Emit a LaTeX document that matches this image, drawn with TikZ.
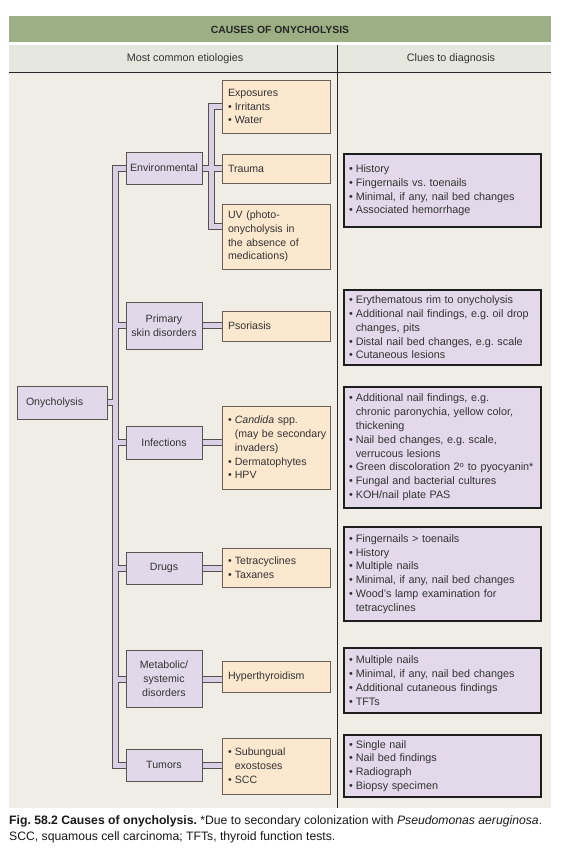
\documentclass[tikz,border=0pt]{standalone}
\usepackage{fontspec}
\setmainfont{Liberation Sans}
\definecolor{titlegreen}{HTML}{9DAF84}
\definecolor{headgray}{HTML}{E6E8DF}
\definecolor{bodybg}{HTML}{EFEDE6}
\definecolor{catfill}{HTML}{E1D9EA}
\definecolor{catedge}{HTML}{5A5550}
\definecolor{orfill}{HTML}{FCE8CE}
\definecolor{oredge}{HTML}{6A6058}
\definecolor{rfill}{HTML}{E3D9EA}
\definecolor{redge}{HTML}{1E1E1E}
\definecolor{pipefill}{HTML}{D9D0E4}
\definecolor{pipeedge}{HTML}{55504F}
\definecolor{txt}{HTML}{333333}
\pgfdeclarelayer{bglayer}
\pgfdeclarelayer{pipelayer}
\pgfsetlayers{bglayer,pipelayer,main}
\newcommand\bu{\makebox[6.8pt][l]{•}}
\newcommand\ind{\hspace*{6.8pt}}
\frenchspacing
\hyphenpenalty=10000
\exhyphenpenalty=10000
\tikzset{
  boxtext/.style={font=\fontsize{10.6}{13.8}\selectfont, text=txt},
  catbox/.style={boxtext, draw=catedge, fill=catfill, line width=0.9pt, minimum width=76pt, align=center, inner sep=1pt},
  orbox/.style={boxtext, draw=oredge, fill=orfill, line width=0.9pt, text width=96pt, inner xsep=6pt, inner ysep=1pt, align=left},
  rbox/.style={font=\fontsize{10.8}{13.8}\selectfont, text=txt, draw=redge, fill=rfill, line width=1.1pt, text width=187pt, inner xsep=5pt, inner ysep=1pt, align=left},
  pipeout/.style={line width=7pt, draw=pipeedge, line join=miter, line cap=butt},
  pipein/.style={line width=5pt, draw=pipefill, line join=miter, line cap=butt},
}
\begin{document}
\begin{tikzpicture}[x=1pt,y=-1pt]
\useasboundingbox (0,0) rectangle (563,851);
\begin{pgfonlayer}{bglayer}
\fill[white] (0,0) rectangle (563,851);
\fill[titlegreen] (9,16) rectangle (551,42);
\fill[headgray] (9,45) rectangle (551,72.5);
\fill[bodybg] (9,72.5) rectangle (551,808);
\draw[line width=1.2pt, black!85] (9,72.5) -- (551,72.5);
\draw[line width=0.9pt, black!85] (337.5,45) -- (337.5,808);
\end{pgfonlayer}

\node[font=\bfseries\fontsize{10.4}{12}\selectfont, text=black!85] (title) at (280,29.5) {CAUSES OF ONYCHOLYSIS};
\node[font=\fontsize{10.8}{12}\selectfont, text=txt] (h1) at (185,59) {Most common etiologies};
\node[font=\fontsize{10.8}{12}\selectfont, text=txt] (h2) at (451,59) {Clues to diagnosis};

% root
\node[catbox, minimum width=90pt, minimum height=33pt, text width=72pt, align=left, inner xsep=9pt] (ony) at (62,402.5) {Onycholysis};

% categories
\node[catbox, minimum height=32pt] (env) at (164,168) {Environmental};
\node[catbox, minimum height=47pt] (prim) at (164,325.5) {Primary\\skin disorders};
\node[catbox, minimum height=33pt] (inf) at (164,442.5) {Infections};
\node[catbox, minimum height=32pt] (drugs) at (164,568) {Drugs};
\node[catbox, minimum height=57pt] (meta) at (164,679) {Metabolic/\\systemic\\disorders};
\node[catbox, minimum height=32pt] (tum) at (164,765) {Tumors};

% causes
\node[orbox, minimum height=53pt] (expo) at (276,106.5) {Exposures\\\bu Irritants\\\bu Water};
\node[orbox, minimum height=29pt] (trauma) at (276,168.5) {Trauma};
\node[orbox, minimum height=65pt] (uv) at (276,236.5) {UV (photo-\\onycholysis in\\the absence of\\medications)};
\node[orbox, minimum height=30pt] (psor) at (276,326) {Psoriasis};
\node[orbox, minimum height=83pt] (cand) at (276,447.5) {\bu\textit{Candida} spp.\\\mbox{\ind(may be secondary}\\\ind invaders)\\\bu Dermatophytes\\\bu HPV};
\node[orbox, minimum height=39pt] (tetra) at (276,567.5) {\bu Tetracyclines\\\bu Taxanes};
\node[orbox, minimum height=31pt] (hyper) at (276,677) {Hyperthyroidism};
\node[orbox, minimum height=56pt] (sub) at (276,766) {\bu Subungual\\\ind exostoses\\\bu SCC};
\coordinate (uvin) at (222,226.5);

% clues
\node[rbox, minimum height=73pt] (hist) at (442.5,190.5) {\bu History\\\bu Fingernails vs. toenails\\\bu Minimal, if any, nail bed changes\\\bu Associated hemorrhage};
\node[rbox, minimum height=75pt] (ery) at (442.5,327.5) {\bu Erythematous rim to onycholysis\\\bu Additional nail findings, e.g. oil drop\\\ind changes, pits\\\bu Distal nail bed changes, e.g. scale\\\bu Cutaneous lesions};
\node[rbox, minimum height=121pt] (addl) at (442.5,447.5) {\bu Additional nail findings, e.g.\\\ind chronic paronychia, yellow color,\\\ind thickening\\\bu Nail bed changes, e.g. scale,\\\ind verrucous lesions\\\bu Green discoloration 2\textsuperscript{o} to pyocyanin*\\\bu Fungal and bacterial cultures\\\bu KOH/nail plate PAS};
\node[rbox, minimum height=94pt] (fing) at (442.5,574) {\bu Fingernails > toenails\\\bu History\\\bu Multiple nails\\\bu Minimal, if any, nail bed changes\\\bu Wood's lamp examination for\\\ind tetracyclines};
\node[rbox, minimum height=65pt] (mult) at (442.5,680.5) {\bu Multiple nails\\\bu Minimal, if any, nail bed changes\\\bu Additional cutaneous findings\\\bu TFTs};
\node[rbox, minimum height=62pt] (sing) at (442.5,766) {\bu Single nail\\\bu Nail bed findings\\\bu Radiograph\\\bu Biopsy specimen};

% caption
\node[anchor=base west, inner sep=0pt, font=\fontsize{12.2}{15}\selectfont, text=black!90] (cap1) at (9,824.5) {\textbf{Fig. 58.2 Causes of onycholysis.} *Due to secondary colonization with \textit{Pseudomonas aeruginosa}.};
\node[anchor=base west, inner sep=0pt, font=\fontsize{12.2}{15}\selectfont, text=black!90] (cap2) at (9,840.5) {SCC, squamous cell carcinoma; TFTs, thyroid function tests.};

% pipes
\begin{pgfonlayer}{pipelayer}
\foreach \st in {pipeout,pipein}{
  \draw[\st] (env.west) -- ++(-10,0) |- (tum.west);
  \draw[\st] (prim.west) -- ++(-10,0);
  \draw[\st] (inf.west) -- ++(-10,0);
  \draw[\st] (drugs.west) -- ++(-10,0);
  \draw[\st] (meta.west) -- ++(-10,0);
  \draw[\st] (ony.east) -- ++(9,0);
  \draw[\st] (expo.west) -- ++(-10,0) |- (uvin);
  \draw[\st] (trauma.west) -- ++(-10,0);
  \draw[\st] (env.east) -- ++(10,0);
  \draw[\st] (prim.east) -- (prim.east -| psor.west);
  \draw[\st] (inf.east) -- (inf.east -| cand.west);
  \draw[\st] (drugs.east) -- (drugs.east -| tetra.west);
  \draw[\st] (meta.east) -- (meta.east -| hyper.west);
  \draw[\st] (tum.east) -- (tum.east -| sub.west);
}
\end{pgfonlayer}
\end{tikzpicture}
\end{document}
